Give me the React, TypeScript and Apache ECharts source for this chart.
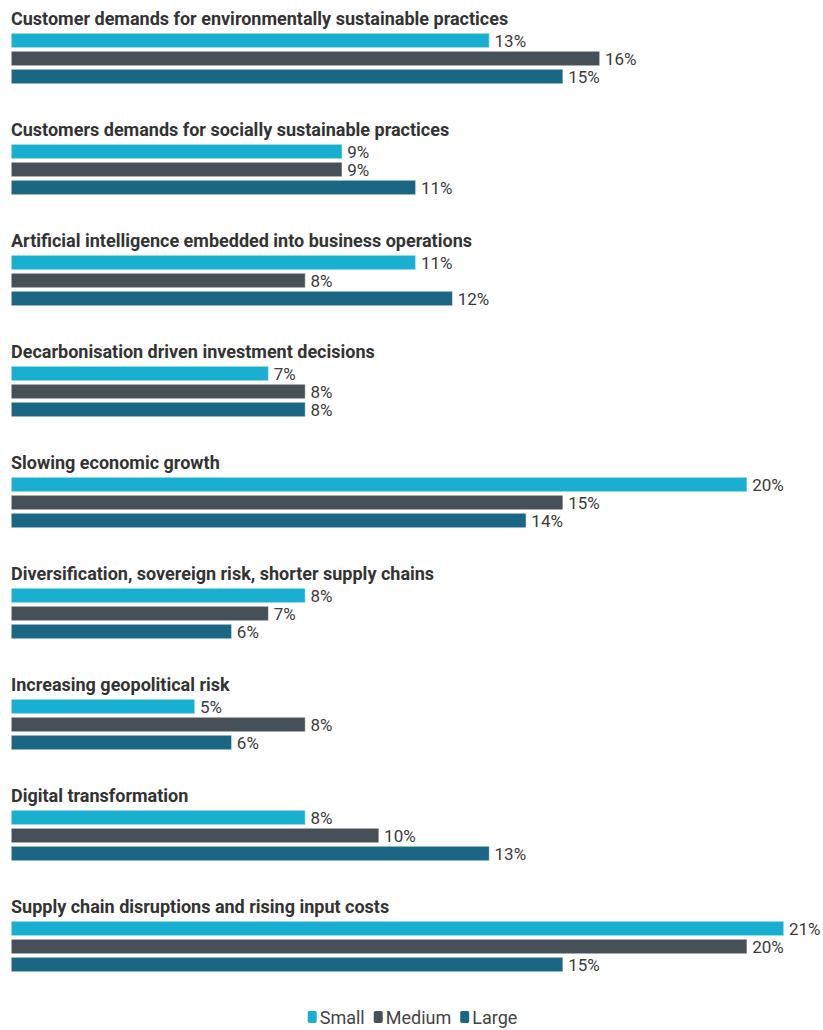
import React, { useEffect, useRef } from "react";
import * as echarts from "echarts";

const categories = [
  "Customer demands for environmentally sustainable practices",
  "Customers demands for socially sustainable practices",
  "Artificial intelligence embedded into business operations",
  "Decarbonisation driven investment decisions",
  "Slowing economic growth",
  "Diversification, sovereign risk, shorter supply chains",
  "Increasing geopolitical risk",
  "Digital transformation",
  "Supply chain disruptions and rising input costs",
];
const small = [13, 9, 11, 7, 20, 8, 5, 8, 21];
const medium = [16, 9, 8, 8, 15, 7, 8, 10, 20];
const large = [15, 11, 12, 8, 14, 6, 6, 13, 15];
const seriesNames = ["Small", "Medium", "Large"];
const colors = ["#19afd1", "#474f57", "#1b6585"];

export default function App() {
  const ref = useRef<HTMLDivElement>(null);
  useEffect(() => {
    document.body.style.margin = "0";
    const chart = echarts.init(ref.current!, null, { renderer: "svg" });
    const values = [small, medium, large];
    chart.setOption({
      animation: false,
      grid: { left: 11, right: 39, top: 3, bottom: 28, containLabel: false },
      xAxis: { type: "value", min: 0, max: 21, show: false },
      yAxis: {
        type: "category",
        inverse: true,
        data: categories,
        axisLine: { show: false },
        axisTick: { show: false },
        splitLine: { show: false },
        axisLabel: {
          inside: true,
          interval: 0,
          margin: 0,
          align: "left",
          verticalAlign: "bottom",
          padding: [0, 0, 31, 0],
          fontFamily: "Roboto",
          fontWeight: "bold",
          fontSize: 18,
          color: "#333333",
        },
      },
      legend: {
        top: 1008,
        left: "center",
        icon: "roundRect",
        itemWidth: 11,
        itemHeight: 14,
        itemGap: 7,
        padding: 0,
        textStyle: { fontFamily: "Roboto", fontSize: 18, color: "#444", padding: [0, 0, 0, -3] },
        data: seriesNames,
      },
      series: seriesNames.map((name, i) => ({
        name,
        type: "bar",
        data: values[i],
        barWidth: 15,
        barGap: "20%",
        itemStyle: { color: colors[i], borderColor: "#ffffff", borderWidth: 0.5 },
        label: {
          show: true,
          position: "right",
          distance: 5,
          formatter: "{c}%",
          fontFamily: "Roboto",
          fontSize: 17,
          color: "#3b3b3b",
        },
      })),
    });
    return () => chart.dispose();
  }, []);
  return <div ref={ref} style={{ width: 823, height: 1030 }} />;
}
